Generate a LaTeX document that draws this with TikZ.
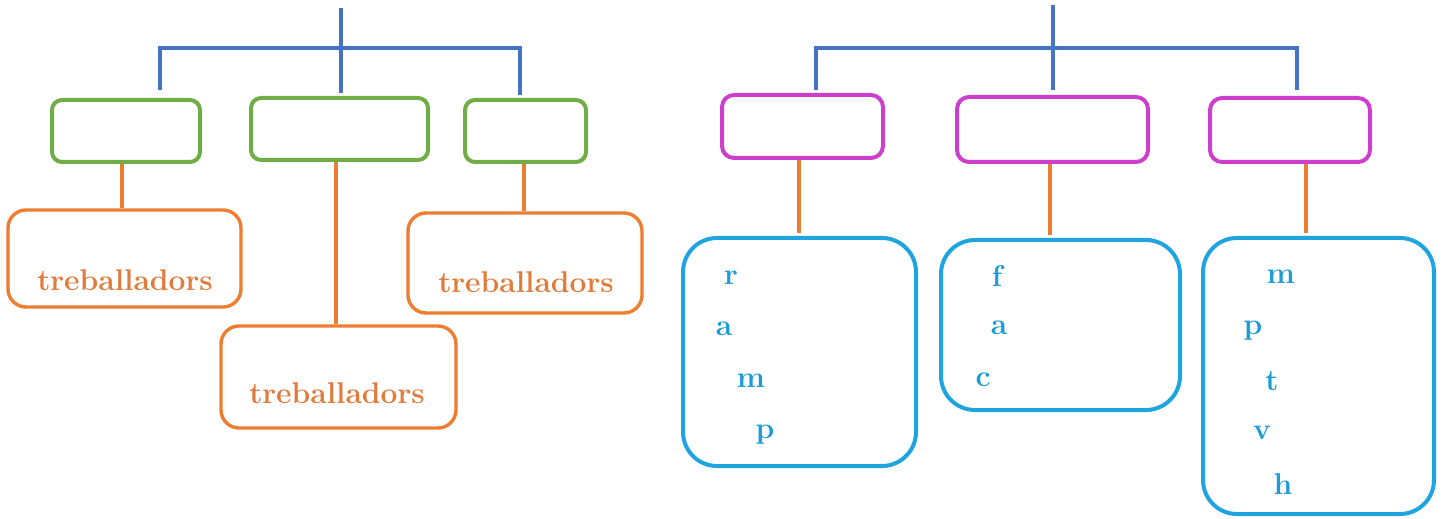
\documentclass[tikz,border=0pt]{standalone}
\definecolor{lblue}{HTML}{4472C4}
\definecolor{lgreen}{HTML}{70AD47}
\definecolor{lorange}{HTML}{ED7D31}
\definecolor{lpink}{HTML}{CC3ECC}
\definecolor{lcyan}{HTML}{1EA5E0}
\definecolor{torange}{HTML}{E07B3C}
\definecolor{tcyan}{HTML}{1B9BD8}
\tikzset{
  blueline/.style={draw=lblue, line width=1.9pt},
  orline/.style={draw=lorange, line width=1.7pt},
  gbox/.style={draw=lgreen, line width=2pt, rounded corners=5pt, minimum height=31pt, inner sep=0pt},
  pbox/.style={draw=lpink, line width=2pt, rounded corners=6pt, inner sep=0pt},
  obox/.style={draw=lorange, line width=1.7pt, rounded corners=9pt, inner sep=0pt},
  cbox/.style={draw=lcyan, line width=2pt, rounded corners=17pt, inner sep=0pt},
  otext/.style={text=torange, font=\fontsize{15}{18}\selectfont\bfseries, inner sep=0pt},
  ctext/.style={text=tcyan, font=\fontsize{15}{18}\selectfont\bfseries, inner sep=0pt},
}
\begin{document}
\begin{tikzpicture}[x=0.5pt,y=-0.5pt]
\useasboundingbox (0,0) rectangle (1448,519);
% ---------- left tree ----------
\node[gbox, minimum width=74pt] (g1) at (126,131) {};
\node[gbox, minimum width=88.5pt] (g2) at (339.5,129) {};
\node[gbox, minimum width=60.5pt] (g3) at (525.5,131) {};
\coordinate (lt) at (341,8);
\coordinate (lh1) at (160,48);
\coordinate (lh3) at (520,48);
\coordinate (ld1) at (160,90);
\coordinate (ld2) at (341,93);
\coordinate (ld3) at (520,95);
\draw[blueline] (lt) -- (ld2);
\draw[blueline] (ld1) -- (lh1) -- (lh3) -- (ld3);
\node[obox, minimum width=116.5pt, minimum height=48.5pt] (o1) at (124.5,258.5) {};
\node[obox, minimum width=117.5pt, minimum height=51pt] (o2) at (338.5,377) {};
\node[obox, minimum width=117pt, minimum height=50pt] (o3) at (525,263) {};
\node[otext] (ot1) at (125,280) {treballadors};
\node[otext] (ot2) at (337,393) {treballadors};
\node[otext] (ot3) at (526,282) {treballadors};
\draw[orline] (g1.south -| 122,0) -- (o1.north -| 122,0);
\draw[orline] (g2.south -| 336,0) -- (o2.north -| 336,0);
\draw[orline] (g3.south -| 524,0) -- (o3.north -| 524,0);
% ---------- right tree ----------
\node[pbox, minimum width=80.5pt, minimum height=31.5pt] (p1) at (802.5,126.5) {};
\node[pbox, minimum width=95.5pt, minimum height=32.5pt] (p2) at (1052.5,129.5) {};
\node[pbox, minimum width=80pt, minimum height=32pt] (p3) at (1290,130) {};
\coordinate (rt) at (1053,5);
\coordinate (rh1) at (816,48);
\coordinate (rh3) at (1297,48);
\coordinate (rd1) at (816,90);
\coordinate (rd2) at (1053,90);
\coordinate (rd3) at (1297,90);
\draw[blueline] (rt) -- (rd2);
\draw[blueline] (rd1) -- (rh1) -- (rh3) -- (rd3);
\node[cbox, minimum width=116.5pt, minimum height=114pt] (b1) at (799.5,352) {};
\node[cbox, minimum width=119.5pt, minimum height=85pt] (b2) at (1060.5,325) {};
\node[cbox, minimum width=115.5pt, minimum height=138pt] (b3) at (1318.5,376) {};
\draw[orline] (p1.south -| 799,0) -- ([yshift=1.5pt]b1.north -| 799,0);
\draw[orline] (p2.south -| 1050,0) -- ([yshift=1.5pt]b2.north -| 1050,0);
\draw[orline] (p3.south -| 1306,0) -- ([yshift=1.5pt]b3.north -| 1306,0);
% letters
\node[ctext] (l11) at (731,278) {r};
\node[ctext] (l12) at (724,329) {a};
\node[ctext] (l13) at (751,381) {m};
\node[ctext] (l14) at (765,435) {p};
\node[ctext] (l21) at (997,276) {f};
\node[ctext] (l22) at (999,328) {a};
\node[ctext] (l23) at (983,380) {c};
\node[ctext] (l31) at (1281,277) {m};
\node[ctext] (l32) at (1253,331) {p};
\node[ctext] (l33) at (1272,381) {t};
\node[ctext] (l34) at (1262,433) {v};
\node[ctext] (l35) at (1283,484) {h};
\end{tikzpicture}
\end{document}
